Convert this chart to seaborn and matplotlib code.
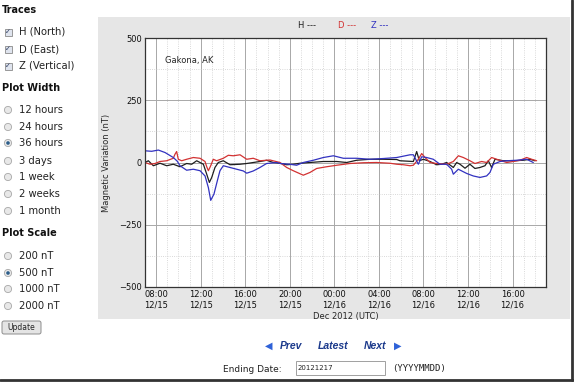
"""Magnetometer page recreation: Gakona, AK, 36 hours, 500 nT scale."""

import matplotlib
matplotlib.use("Agg")
import matplotlib.dates as mdates
import matplotlib.pyplot as plt
import matplotlib.ticker as mticker
import pandas as pd
import seaborn as sns
from matplotlib.patches import Circle, FancyBboxPatch, Rectangle

# hours after 2012-12-15 07:00 UTC, values in nT
h_hours = [0, 0.3, 0.75, 1.35, 1.95, 2.54, 3.14, 3.74, 4.19, 4.64, 5.24, 5.54,
           5.78, 5.99, 6.28, 6.58, 7.03, 7.63, 8.53, 9.13, 9.72, 10.32, 10.92,
           11.52, 12.12, 12.72, 13.31, 13.91, 14.81, 16.01, 17.21, 18.1, 19.0,
           20.2, 21.4, 22.6, 22.89, 24.09, 24.39, 24.63, 24.99, 25.59, 26.18,
           26.63, 27.08, 27.68, 27.98, 28.28, 28.73, 29.17, 29.62, 30.07,
           30.52, 30.82, 31.12, 31.42, 32.17, 33.06, 33.96, 34.56, 35.01]
h_vals = [0, 7, -13, -3, -13, -7, -17, -4, -7, 7, -7, -47,
          -80, -60, -20, 0, 7, -9, -7, -4, 0, 4, 9,
          0, -3, -9, -7, -3, 0, 4, 4, 0, 9,
          13, 13, 12, 7, 4, 44, 7, 13, 4, -9,
          -7, 0, -20, 0, -7, -23, -7, -24, -20,
          -13, 7, -20, 13, 7, 7, 9, 13, 7]

d_hours = [0, 0.45, 0.9, 1.35, 1.95, 2.54, 2.69, 2.84, 2.99, 3.29, 3.74, 4.34,
           4.94, 5.39, 5.54, 5.69, 5.9, 6.13, 6.43, 7.03, 7.48, 7.93, 8.53,
           9.13, 9.72, 10.32, 10.92, 11.22, 12.12, 12.72, 13.31, 14.21, 14.81,
           15.41, 16.31, 17.21, 18.4, 19.6, 20.8, 22.0, 22.6, 23.2, 23.8,
           24.09, 24.54, 24.84, 25.14, 25.59, 26.18, 27.08, 27.68, 28.13,
           28.58, 29.17, 29.62, 30.22, 30.67, 31.12, 31.57, 32.47, 33.06,
           33.66, 34.26, 34.71, 35.16]
d_vals = [0, -7, -4, 4, 7, 17, 33, 44, 13, 7, 13, 20,
          17, 4, -17, -33, -13, 13, 7, 17, 29, 27, 31,
          13, 17, 7, 9, 10, 0, -20, -33, -51, -40,
          -24, -17, -11, -4, -1, 0, -3, -7, -9, -13,
          -11, 13, 36, 20, 0, -4, -7, 4, 27,
          20, 7, -4, 4, 0, 20, 13, 0, 4,
          9, 20, 13, 7]

z_hours = [0, 0.6, 1.2, 1.8, 2.54, 2.9, 3.14, 3.74, 4.34, 4.94, 5.39, 5.69,
           5.9, 6.19, 6.49, 6.73, 7.03, 7.63, 8.23, 8.83, 9.13, 9.72, 10.32,
           10.92, 11.82, 12.12, 13.0, 13.61, 14.21, 15.11, 16.01, 16.91,
           17.81, 19.0, 20.2, 21.4, 22.6, 23.8, 24.09, 24.54, 24.84, 25.29,
           25.88, 26.48, 27.08, 27.53, 27.68, 28.13, 28.88, 29.47, 30.07,
           30.67, 30.97, 31.27, 31.87, 32.47, 33.36, 34.26, 34.86]
z_vals = [47, 45, 50, 40, 20, 5, -13, -31, -27, -33, -54, -101,
          -152, -127, -74, -33, -13, -20, -27, -34, -43, -34, -20,
          -4, 0, -4, -7, -11, 0, 9, 20, 27,
          17, 17, 13, 16, 20, 31, 31, -7, 23, 20,
          13, -7, -7, -27, -47, -27, -44, -54, -60,
          -54, -40, -7, 4, 7, 9, 13, 0]

traces = ["H", "D", "Z"]
trace_colors = ["#1e1e1e", "#d23232", "#3232c0"]
width_options = ["12 hours", "24 hours", "36 hours", "3 days", "1 week",
                 "2 weeks", "1 month"]
scale_options = ["200 nT", "500 nT", "1000 nT", "2000 nT"]

start = pd.Timestamp("2012-12-15 07:00")
end = pd.Timestamp("2012-12-16 19:00")

W, H = 574, 382
plt.rcParams["font.family"] = ["DejaVu Sans"]
sns.set_style("white")
plt.rcParams["font.family"] = ["DejaVu Sans"]

fig = plt.figure(figsize=(W / 100, H / 100), dpi=100)
fig.patch.set_facecolor("white")

# page canvas in pixel coordinates
bg = fig.add_axes([0, 0, 1, 1], zorder=0)
bg.set_xlim(0, W)
bg.set_ylim(H, 0)
bg.axis("off")

bg.add_patch(Rectangle((98, 17), 472, 302, facecolor="#e6e6e6", edgecolor="none"))
bg.plot([572, 572], [0, 380], color="#333333", lw=2)
bg.plot([0, 573], [380, 380], color="#333333", lw=2)

# left form
for label, y in [("Traces", 10), ("Plot Width", 88), ("Plot Scale", 233)]:
    bg.text(2, y, label, fontsize=7, fontweight="bold", va="center", color="#111111")

for name, y in zip(["H (North)", "D (East)", "Z (Vertical)"], [32, 49, 66]):
    bg.add_patch(Rectangle((4.5, y - 3.5), 7, 7, facecolor="#dfe4ee", edgecolor="#8a8a8a", lw=0.6))
    bg.text(8, y + 0.3, "\u2713", fontsize=5, ha="center", va="center", color="#2a3a60")
    bg.text(19, y, name, fontsize=7.2, va="center", color="#222222")

for opts, ys, sel in [(width_options, [110, 127, 143, 161, 177, 194, 211], "36 hours"),
                      (scale_options, [256, 273, 289, 306], "500 nT")]:
    for name, y in zip(opts, ys):
        bg.add_patch(Circle((8, y), 3.6, facecolor="#e8e8e8", edgecolor="#a8a8a8", lw=0.6))
        if name == sel:
            bg.add_patch(Circle((8, y), 1.8, facecolor="#2c5d8a", edgecolor="none"))
        bg.text(19, y, name, fontsize=7.2, va="center", color="#222222")

bg.add_patch(FancyBboxPatch((2, 321), 39, 13, boxstyle="round,pad=0,rounding_size=2",
                            facecolor="#e4e4e4", edgecolor="#8c8c8c", lw=0.7))
bg.text(21.5, 327.8, "Update", fontsize=5.5, ha="center", va="center", color="#222222")

# legend strip above the plot
for name, color, x in zip(traces, trace_colors, [307, 347, 380]):
    bg.text(x, 26, f"{name} ---", fontsize=6, ha="center", va="center", color=color)

# navigation row
nav = "#1c3a8c"
bg.text(265, 346, "\u25c0", fontsize=7, va="center", color="#2f62d8")
bg.text(302, 346, "Prev", fontsize=7.5, ha="right", va="center", color=nav,
        family="Liberation Sans", fontweight="bold", style="italic")
bg.text(333, 346, "Latest", fontsize=7.5, ha="center", va="center", color=nav,
        family="Liberation Sans", fontweight="bold", style="italic")
bg.text(364, 346, "Next", fontsize=7.5, va="center", color=nav,
        family="Liberation Sans", fontweight="bold", style="italic")
bg.text(394, 346, "\u25b6", fontsize=7, va="center", color="#2f62d8")

bg.text(223, 369, "Ending Date:", fontsize=6.5, va="center", color="#222222")
bg.add_patch(Rectangle((296, 361), 89, 14, facecolor="white", edgecolor="#a0a0a0", lw=0.7))
bg.text(298, 368.5, "20121217", fontsize=5, va="center", color="#222222")
bg.text(392, 368, "(YYYYMMDD)", fontsize=6.5, va="center", color="#222222",
        family="DejaVu Sans Mono")

# the plot itself
ax = fig.add_axes([145 / W, 1 - 287 / H, 401 / W, 249 / H], zorder=1)
ax.set_facecolor("white")

for name, hours, vals, color in zip(traces, [h_hours, d_hours, z_hours],
                                    [h_vals, d_vals, z_vals], trace_colors):
    df = pd.DataFrame({"time": start + pd.to_timedelta(hours, unit="h"), "nT": vals})
    sns.lineplot(data=df, x="time", y="nT", ax=ax, color=color, lw=0.9,
                 errorbar=None, estimator=None)

ax.set_xlim(start, end)
ax.set_ylim(-500, 500)
ax.xaxis.set_major_locator(mdates.HourLocator(byhour=range(0, 24, 4)))
ax.xaxis.set_minor_locator(mdates.HourLocator())
ax.xaxis.set_major_formatter(mdates.DateFormatter("%H:%M\n%m/%d"))
ax.yaxis.set_major_locator(mticker.MultipleLocator(250))
ax.yaxis.set_minor_locator(mticker.MultipleLocator(125))

ax.grid(which="major", color="#a8a8a8", lw=0.7, ls="-")
ax.grid(which="minor", color="#cccccc", lw=0.6, ls=":")
ax.tick_params(which="both", length=0, labelsize=6, pad=2, colors="#111111")
for sp in ax.spines.values():
    sp.set_color("#333333")
    sp.set_linewidth(0.9)

ax.set_xlabel("Dec 2012 (UTC)", fontsize=6, labelpad=2)
ax.set_ylabel("Magnetic Variation (nT)", fontsize=6, labelpad=6)
ax.text(0.05, 0.91, "Gakona, AK", transform=ax.transAxes, fontsize=6, va="center")

fig.savefig("out.png", dpi=100)
plt.close(fig)
